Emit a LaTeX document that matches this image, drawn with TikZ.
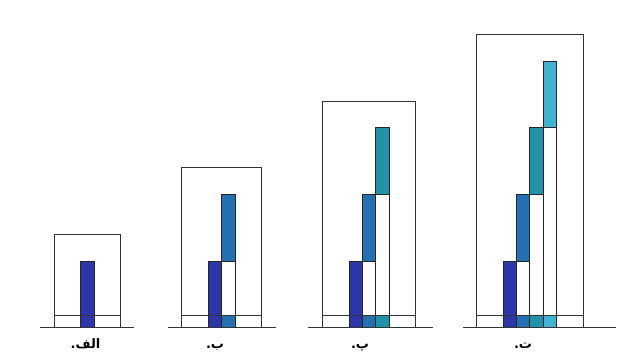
\documentclass[tikz,border=0pt]{standalone}
\usepackage{fontspec}
\newfontfamily\persianfont[Script=Arabic]{DejaVu Sans}
\definecolor{c1}{RGB}{44,54,168}
\definecolor{c2}{RGB}{36,112,176}
\definecolor{c3}{RGB}{34,146,168}
\definecolor{c4}{RGB}{66,178,210}

\begin{document}
\begin{tikzpicture}[
    x=1pt, y=1pt,
    frame/.style={draw=black!80, line width=0.8pt},
    ground/.style={draw=black!80, line width=1pt},
    cell/.style={draw=black!85, line width=0.7pt},
    tag/.style={font=\persianfont\bfseries\fontsize{13}{15}\selectfont, inner sep=0pt, anchor=base}
]
\def\u{13.333}
\def\gy{34.3}
\def\strip{12.7}
\useasboundingbox (0,0) rectangle (632,362);

\foreach \n/\xl/\gl/\gr/\tx/\lab [count=\k] in
    {1/54/40/134/85.5/{الف}, 2/181.7/168/276/215/{ب},
     3/322.3/308/433/360/{پ}, 4/476.3/463/616/523/{ت}}{
  \pgfmathsetmacro\xr{\xl+(\n+4)*\u}
  \pgfmathsetmacro\yt{\gy+(5*\n+2)*\u}
  \draw[frame] (\xl,\gy) rectangle (\xr,\yt);
  % one column per step
  \foreach \i in {1,...,\n}{
    \pgfmathsetmacro\bx{\xl+(\i+1)*\u}
    \pgfmathsetmacro\by{\gy+5*(\i-1)*\u}
    \fill[c\i] (\bx,\by) rectangle ++(\u,5*\u);
    \fill[c\i] (\bx,\gy) rectangle ++(\u,\strip);
    \draw[cell] (\bx,\gy) rectangle ++(\u,5*\i*\u);
    \draw[cell] (\bx,\by) -- ++(\u,0);
  }
  \draw[ground] (\xl,\gy+\strip) -- (\xr,\gy+\strip);
  \draw[ground] (\gl,\gy) -- (\gr,\gy);
  \node[tag] (tag\k) at (\tx,14) {\mbox{.}\mbox{\lab}};
}
\end{tikzpicture}
\end{document}
